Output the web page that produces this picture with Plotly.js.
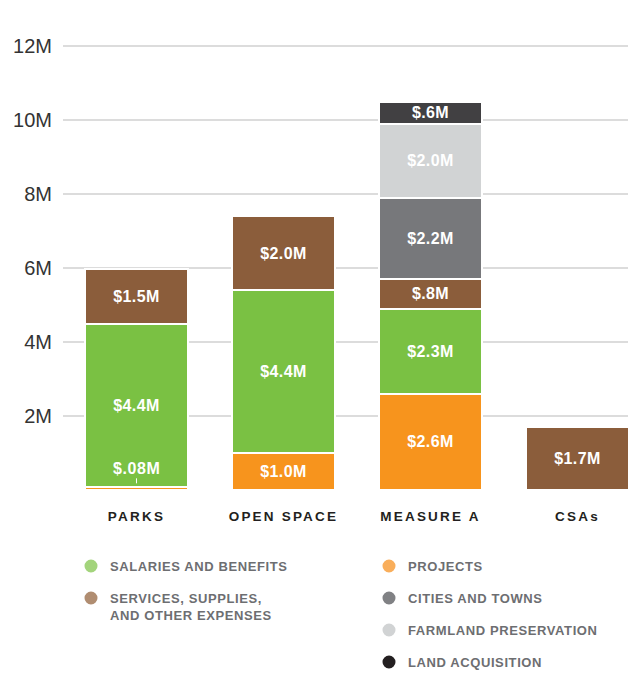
<!DOCTYPE html>
<html>
<head>
<meta charset="utf-8">
<script src="https://cdn.plot.ly/plotly-3.0.1.min.js"></script>
<style>
  html, body { margin: 0; padding: 0; background: #fff; }
  #chart { width: 628px; height: 673px; }
  .xtick text { letter-spacing: 2.2px; }
  .bartext { letter-spacing: 0.4px; }
  .annotation-text { letter-spacing: 0.6px; }
</style>
</head>
<body>
<div id="chart"></div>
<script>
// ---- data (values in millions of dollars) ----
const categories = ['PARKS', 'OPEN SPACE', 'MEASURE A', 'CSAs'];
const projects    = [0.08, 1.0, 2.6, null];
const salaries    = [4.4, 4.4, 2.3, null];
const services    = [1.5, 2.0, 0.8, 1.7];
const cities      = [null, null, 2.2, null];
const farmland    = [null, null, 2.0, null];
const landAcq     = [null, null, 0.6, null];
const yTickVals   = [2, 4, 6, 8, 10, 12];
const yTickText   = ['2M', '4M', '6M', '8M', '10M', '12M'];

const legendLabels = [
  'SALARIES AND BENEFITS', 'SERVICES, SUPPLIES,<br>AND OTHER EXPENSES',
  'PROJECTS', 'CITIES AND TOWNS', 'FARMLAND PRESERVATION', 'LAND ACQUISITION'
];

// ---- styling ----
const barColors = {
  projects: '#F7941D', salaries: '#7AC143', services: '#8B5D3B',
  cities: '#77787B', farmland: '#D1D3D4', land: '#414042'
};
const legendDotColors = ['#A3D47C', '#B08D71', '#F9AE5B', '#808184', '#D1D3D4', '#231F20'];

function fmt(v) {
  if (v == null) return '';
  if (v < 0.1) return '';            // too thin: labelled by annotation
  if (v < 1) return '$' + v.toFixed(1).slice(1) + 'M';
  return '$' + v.toFixed(1) + 'M';
}

const barFont = { family: 'Liberation Sans, Arial, sans-serif', size: 16, color: '#ffffff', weight: 'bold' };

function barTrace(name, vals, color) {
  return {
    type: 'bar', name: name, x: categories, y: vals,
    marker: { color: color, line: { color: '#ffffff', width: 2 } },
    text: vals.map(fmt), textposition: 'inside', insidetextanchor: 'middle',
    textangle: 0, constraintext: 'none',
    textfont: barFont,
    hoverinfo: 'name+y', showlegend: false
  };
}

const data = [
  barTrace('Projects', projects, barColors.projects),
  barTrace('Salaries and Benefits', salaries, barColors.salaries),
  barTrace('Services, Supplies, and Other Expenses', services, barColors.services),
  barTrace('Cities and Towns', cities, barColors.cities),
  barTrace('Farmland Preservation', farmland, barColors.farmland),
  barTrace('Land Acquisition', landAcq, barColors.land)
];

// ---- layout geometry ----
const W = 628, H = 673;
const mL = 63, mR = 0, mT = 28, mB = 183;
const plotW = W - mL - mR, plotH = H - mT - mB;
const px2x = px => (px - mL) / plotW;
const py2y = py => (H - mB - py) / plotH;

const legendFont = { family: 'Liberation Sans, Arial, sans-serif', size: 13, color: '#6D6E71', weight: 'bold' };
const legendPos = [
  [91, 566], [91, 598], [389, 566], [389, 598], [389, 630], [389, 662]
];

const shapes = [];
const annotations = [];
legendPos.forEach((p, i) => {
  const r = 6.5;
  shapes.push({
    type: 'circle', xref: 'paper', yref: 'paper',
    x0: px2x(p[0] - r), x1: px2x(p[0] + r), y0: py2y(p[1] + r), y1: py2y(p[1] - r),
    fillcolor: legendDotColors[i], line: { width: 0 }
  });
  annotations.push({
    xref: 'paper', yref: 'paper', x: px2x(p[0] + 17), y: py2y(p[1] - 9),
    xanchor: 'left', yanchor: 'top', align: 'left', showarrow: false,
    text: legendLabels[i], font: legendFont
  });
});

// label for the thin PARKS projects bar
annotations.push({
  x: categories[0], y: projects[0] + 0.1, xref: 'x', yref: 'y',
  text: '$' + String(projects[0]).slice(1) + 'M',
  showarrow: true, arrowhead: 0, arrowwidth: 1, arrowcolor: '#ffffff',
  ax: 0, ay: -15, standoff: 0,
  font: barFont
});

const layout = {
  width: W, height: H,
  margin: { l: mL, r: mR, t: mT, b: mB },
  paper_bgcolor: '#ffffff', plot_bgcolor: '#ffffff',
  barmode: 'stack', bargap: 0.3,
  showlegend: false,
  xaxis: {
    type: 'category', range: [-0.5, 3.344],
    showgrid: false, zeroline: false, showline: false, ticks: '',
    ticklabelstandoff: 16,
    tickfont: { family: 'Liberation Sans, Arial, sans-serif', size: 13.5, color: '#231F20', weight: 'bold' },
    fixedrange: true
  },
  yaxis: {
    range: [0, plotH / 37],
    tickvals: yTickVals, ticktext: yTickText,
    showgrid: true, gridcolor: '#DCDCDC', gridwidth: 2,
    zeroline: false, showline: false, ticks: '',
    ticklabelstandoff: 10,
    tickfont: { family: 'Liberation Sans, Arial, sans-serif', size: 20, color: '#333333' },
    fixedrange: true
  },
  shapes: shapes,
  annotations: annotations
};

Plotly.newPlot('chart', data, layout, { displayModeBar: false, staticPlot: true });
</script>
</body>
</html>
